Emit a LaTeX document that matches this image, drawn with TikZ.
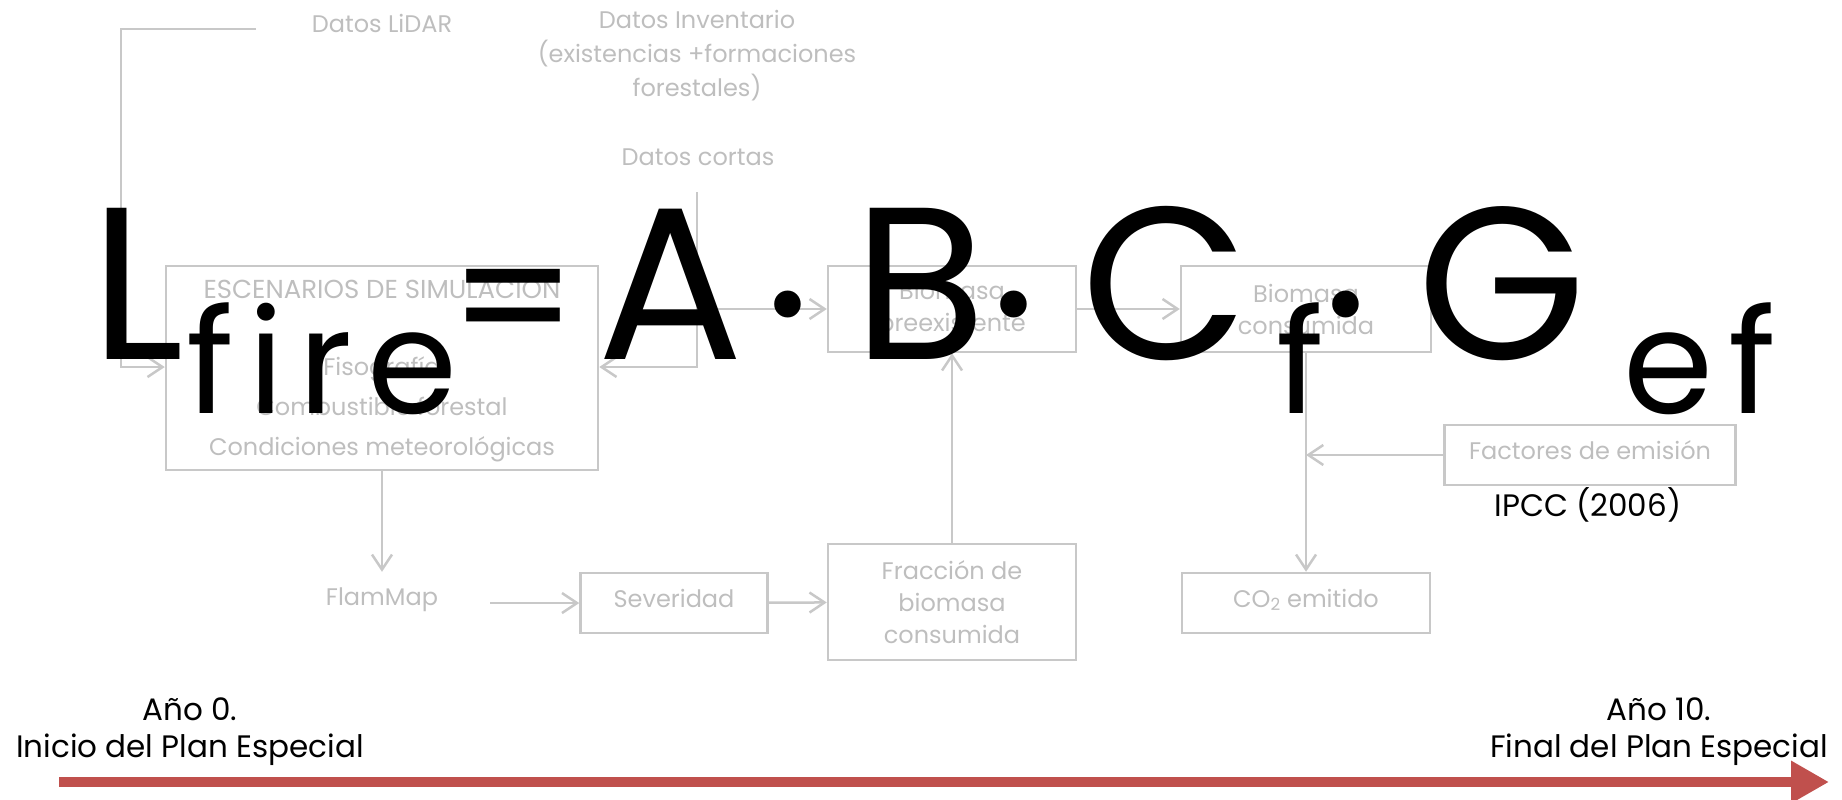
\documentclass[tikz,border=0pt]{standalone}
\usepackage{fontspec}
\setmainfont{Poppins}
\usetikzlibrary{arrows.meta}
\definecolor{grisTexto}{RGB}{190,190,190}
\definecolor{grisLinea}{RGB}{200,200,200}
\definecolor{rojoLinea}{RGB}{192,80,77}
\newcommand{\textogris}{\fontsize{24}{32}\selectfont}
\newcommand{\textoesc}{\fontsize{24}{40}\selectfont}
\newcommand{\textonegro}{\fontsize{31}{37}\selectfont}
\newcommand{\formulagrande}{\fontsize{217}{240}\selectfont}
\newcommand{\formulaigual}{\fontsize{180}{200}\selectfont}
\newcommand{\formulasub}{\fontsize{145}{160}\selectfont\addfontfeatures{LetterSpace=10}}
\begin{document}
\begin{tikzpicture}[x=1pt,y=-1pt]
			% Styles
			\tikzstyle{flecha}=[->,>={Straight Barb[length=15pt,width=20pt]},line width=2.5pt,draw=grisLinea]
			\tikzstyle{caja}=[draw=grisLinea,line width=2.5pt,inner sep=0pt,text=grisTexto,align=center,font=\textogris]
			\tikzstyle{cajasimple}=[caja,text height=17pt,text depth=9pt]
			\tikzstyle{etiqueta}=[text=grisTexto,align=center,font=\textogris]
			\tikzstyle{comentario}=[black,align=center,font=\textonegro]
			\tikzstyle{formula}=[inner sep=0pt,anchor=base,font=\formulagrande]
			\tikzstyle{subindice}=[inner sep=0pt,anchor=base,font=\formulasub]
			\tikzstyle{tiempo}=[-{Triangle[length=38pt,width=40pt]},line width=10pt,draw=rojoLinea]
			\useasboundingbox (0,0) rectangle (1842,800);
			% Datos de entrada
			\node[etiqueta] (lidar) at (382,23) {Datos LiDAR};
			\node[etiqueta,font=\fontsize{24}{34}\selectfont] (inventario) at (697,56) {Datos Inventario\\(existencias +formaciones\\forestales)};
			\node[etiqueta] (cortas) at (698,157) {Datos cortas};
			% Cajas
			\node[caja,minimum width=432pt,minimum height=204pt,font=\textoesc] (esc) at (382,368) {{\fontsize{26}{40}\selectfont ESCENARIOS DE SIMULACIÓN}\\[37pt]Fisografía\\Combustible forestal\\Condiciones meteorológicas};
			\node[caja,minimum width=248pt,minimum height=86pt] (prex) at (952,309) {Biomasa\\preexistente};
			\node[caja,minimum width=250pt,minimum height=86pt] (cons) at (1306,309) {Biomasa\\consumida};
			\node[etiqueta,inner ysep=16pt] (flammap) at (382,600) {FlamMap};
			\node[cajasimple,minimum width=187pt,minimum height=60pt] (sev) at (674,603) {Severidad};
			\node[caja,minimum width=248pt,minimum height=116pt] (frac) at (952,602) {Fracción de\\biomasa\\consumida};
			\node[cajasimple,minimum width=291pt,minimum height=60pt] (fact) at (1590,455) {Factores de emisión};
			\node[comentario] (ipcc) at (1588,505) {IPCC (2006)};
			\node[cajasimple,minimum width=248pt,minimum height=60pt] (co2) at (1306,603) {CO\textsubscript{2} emitido};
			% Extremos libres
			\coordinate (lidarA) at (256,29);
			\coordinate (lidarB) at (121,367);
			\coordinate (cortasA) at (697,192);
			\coordinate (cortasB) at (697,367);
			\coordinate (flamA) at (490,603);
			\coordinate (t0) at (59,782);
			\coordinate (t1) at (1829,782);
			% Flechas
			\draw[flecha] (lidarA) -| (lidarB) -- (esc.west |- lidarB);
			\draw[flecha] (cortasA) -- (cortasB) -- (esc.east |- cortasB);
			\draw[flecha] (cortasA |- prex.west) -- (prex.west);
			\draw[flecha] (prex) -- (cons);
			\draw[flecha] (esc) -- (flammap);
			\draw[flecha] (flamA) -- (sev.west |- flamA);
			\draw[flecha] (sev) -- (frac);
			\draw[flecha] (frac) -- (prex);
			\draw[flecha] (cons) -- (co2);
			\draw[flecha] (fact.west) -- (fact.west -| cons.south);
			% Linea de tiempo
			\draw[tiempo] (t0) -- (t1);
			\node[comentario] (inicio) at (190,732) {Año 0.\\Inicio del Plan Especial};
			\node[comentario] (final) at (1659,732) {Año 10.\\Final del Plan Especial};
			% Formula
			\node[formula] (L) at (137,359) {L};
			\node[subindice] (fire) at (322,413) {fire};
			\node[formula,font=\formulaigual] (igual) at (514,361) {=};
			\node[formula] (A) at (671,359) {A};
			\node[formula] (punto1) at (787,378) {·};
			\node[formula] (B) at (920,359) {B};
			\node[formula] (punto2) at (1013,378) {·};
			\node[formula] (C) at (1165,359) {C};
			\node[subindice] (f) at (1300,413) {f};
			\node[formula] (punto3) at (1345,378) {·};
			\node[formula] (G) at (1502,359) {G};
			\node[subindice] (ef) at (1700,413) {ef};
\end{tikzpicture}
\end{document}
